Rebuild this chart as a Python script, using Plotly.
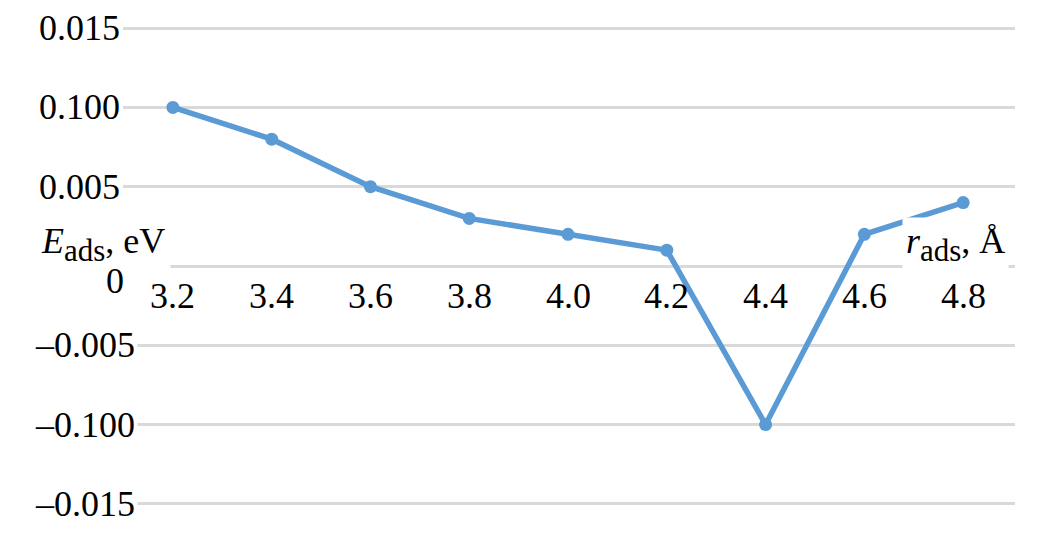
import plotly.graph_objects as go

# Data
r_ads = [3.2, 3.4, 3.6, 3.8, 4.0, 4.2, 4.4, 4.6, 4.8]
e_ads = [0.010, 0.008, 0.005, 0.003, 0.002, 0.001, -0.010, 0.002, 0.004]

x_tick_vals = [3.2, 3.4, 3.6, 3.8, 4.0, 4.2, 4.4, 4.6, 4.8]
x_tick_text = ["3.2", "3.4", "3.6", "3.8", "4.0", "4.2", "4.4", "4.6", "4.8"]

y_tick_vals = [0.015, 0.010, 0.005, 0.0, -0.005, -0.010, -0.015]
y_tick_text = ["0.015", "0.100", "0.005", "0", "\u20130.005", "\u20130.100", "\u20130.015"]

FONT = "Liberation Serif"
FS = 36
BLUE = "#5B9BD5"

fig = go.Figure()
fig.add_trace(go.Scatter(
    x=r_ads, y=e_ads, mode="lines+markers",
    line=dict(color=BLUE, width=5.5),
    marker=dict(color=BLUE, size=13),
    showlegend=False, cliponaxis=False,
))

ann = []
# axis titles (drawn first so tick labels stay on top)
SUB = '<sub><span style="font-size:31px">ads</span></sub>'
ann.append(dict(x=-0.099, y=0, xref="paper", yref="y",
                text="<i>E</i>" + SUB + ", eV", xanchor="left", yanchor="middle",
                yshift=22, showarrow=False, bgcolor="white", borderpad=5,
                font=dict(family=FONT, size=FS, color="black")))
ann.append(dict(x=0.993, y=0, xref="paper", yref="y",
                text="<i>r</i>" + SUB + ", \u00c5", xanchor="right", yanchor="middle",
                yshift=22, showarrow=False, bgcolor="white", borderpad=3,
                font=dict(family=FONT, size=FS, color="black")))
# y tick labels (left side)
for v, t in zip(y_tick_vals, y_tick_text):
    if v == 0:
        ann.append(dict(x=0.003, y=v, xref="paper", yref="y", text=t,
                        xanchor="right", yanchor="middle", yshift=-15,
                        showarrow=False, font=dict(family=FONT, size=FS, color="black")))
    else:
        xp = -0.098 if v > 0 else -0.102
        ann.append(dict(x=xp, y=v, xref="paper", yref="y", text=t,
                        xanchor="left", yanchor="middle", bgcolor="white", borderpad=2,
                        showarrow=False, font=dict(family=FONT, size=FS, color="black")))
# x tick labels, placed along the zero line
for v, t in zip(x_tick_vals, x_tick_text):
    ann.append(dict(x=v, y=0, xref="x", yref="y", text=t,
                    xanchor="center", yanchor="middle", yshift=-30,
                    showarrow=False, font=dict(family=FONT, size=FS, color="black")))

fig.update_layout(
    width=1056, height=559,
    margin=dict(l=115, r=49, t=17, b=60),
    paper_bgcolor="white", plot_bgcolor="white",
    xaxis=dict(range=[3.099, 4.905], showgrid=False, zeroline=False,
               showticklabels=False, showline=False, ticks=""),
    yaxis=dict(range=[-0.0152, 0.0152], tickvals=y_tick_vals, showticklabels=False,
               showgrid=True, gridcolor="#D9D9D9", gridwidth=2.5,
               zeroline=False, showline=False, ticks=""),
    annotations=ann,
)

fig.write_html("out.html")
